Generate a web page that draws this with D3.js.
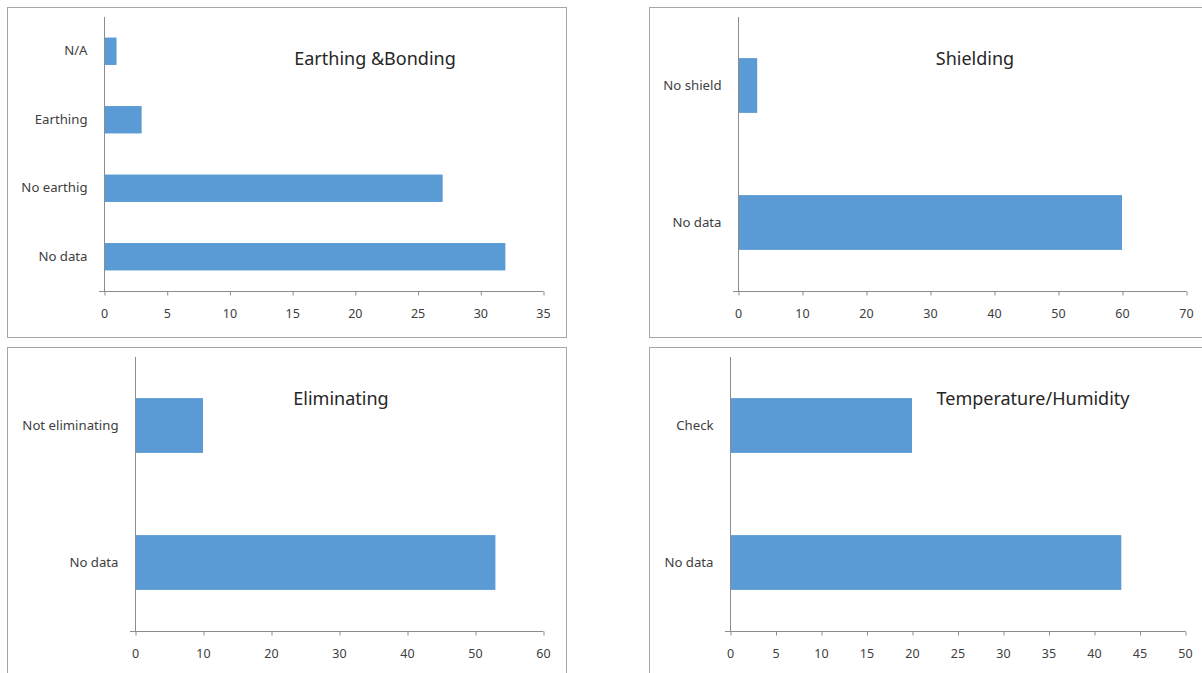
<!DOCTYPE html>
<html>
<head>
<meta charset="utf-8">
<script src="https://cdn.jsdelivr.net/npm/d3@7"></script>
<style>
  html, body { margin: 0; padding: 0; background: #fff; }
  svg { display: block; }
  text { font-family: "Noto Sans", "Open Sans", sans-serif; }
</style>
</head>
<body>
<svg id="chart" width="1202" height="673"></svg>
<script>
// Survey results, one horizontal bar chart per topic (top category drawn first)
const earthingCategories = ["N/A", "Earthing", "No earthig", "No data"];
const earthingValues     = [1, 3, 27, 32];
const earthingTicks      = [0, 5, 10, 15, 20, 25, 30, 35];

const shieldingCategories = ["No shield", "No data"];
const shieldingValues     = [3, 60];
const shieldingTicks      = [0, 10, 20, 30, 40, 50, 60, 70];

const eliminatingCategories = ["Not eliminating", "No data"];
const eliminatingValues     = [10, 53];
const eliminatingTicks      = [0, 10, 20, 30, 40, 50, 60];

const climateCategories = ["Check", "No data"];
const climateValues     = [20, 43];
const climateTicks      = [0, 5, 10, 15, 20, 25, 30, 35, 40, 45, 50];

const titles = ["Earthing &Bonding", "Shielding", "Eliminating", "Temperature/Humidity"];

// Panel frames and plot areas (page pixels)
const panels = [
  { title: titles[0], cats: earthingCategories,    vals: earthingValues,    ticks: earthingTicks,
    frame: [7.5, 7.5, 559, 330], plot: [104, 17, 543, 291], titleX: 375, titleY: 60 },
  { title: titles[1], cats: shieldingCategories,   vals: shieldingValues,   ticks: shieldingTicks,
    frame: [649.5, 7.5, 560, 330], plot: [738, 17, 1186, 291], titleX: 975, titleY: 60 },
  { title: titles[2], cats: eliminatingCategories, vals: eliminatingValues, ticks: eliminatingTicks,
    frame: [7.5, 347.5, 559, 340], plot: [135, 357, 543, 631], titleX: 341, titleY: 400 },
  { title: titles[3], cats: climateCategories,     vals: climateValues,     ticks: climateTicks,
    frame: [649.5, 347.5, 560, 340], plot: [730, 357, 1185, 631], titleX: 1033, titleY: 400 }
];

const svg = d3.select("#chart");
const barColor = "#5b9bd5";
const axisColor = "#8c8c8c";
const textColor = "#404040";

panels.forEach(p => {
  const g = svg.append("g");

  // outer frame
  g.append("rect")
    .attr("x", p.frame[0]).attr("y", p.frame[1])
    .attr("width", p.frame[2]).attr("height", p.frame[3])
    .attr("fill", "#fff").attr("stroke", "#a6a6a6").attr("stroke-width", 1);

  const [x0, y0, x1, y1] = p.plot;
  const maxTick = p.ticks[p.ticks.length - 1];

  const x = d3.scaleLinear().domain([0, maxTick]).range([x0, x1]);
  const y = d3.scaleBand().domain(p.cats).range([y0, y1])
    .paddingInner(0.6).paddingOuter(0.3);

  // bars
  g.selectAll("rect.bar")
    .data(p.cats.map((c, i) => ({ c, v: p.vals[i] })))
    .join("rect")
    .attr("class", "bar")
    .attr("x", x(0))
    .attr("y", d => y(d.c))
    .attr("width", d => x(d.v) - x(0))
    .attr("height", y.bandwidth())
    .attr("fill", barColor);

  // value axis along the bottom
  const xAxis = d3.axisBottom(x).tickValues(p.ticks).tickSize(4).tickSizeOuter(0).tickPadding(14);
  const xg = g.append("g").attr("transform", `translate(0,${y1 + 0.5})`).call(xAxis);
  xg.select(".domain").attr("stroke", axisColor).attr("d", `M${x0 - 5},0H${x1 + 0.5}`);
  xg.selectAll(".tick line").attr("stroke", axisColor).attr("transform", "translate(0.5,0)");
  xg.selectAll(".tick text").attr("fill", textColor).attr("font-size", 12.5);

  // category axis along the left
  const yAxis = d3.axisLeft(y).tickSize(0).tickPadding(17);
  const yg = g.append("g").attr("transform", `translate(${x0 + 0.5},0)`).call(yAxis);
  yg.select(".domain").attr("stroke", axisColor).attr("d", `M0,${y0}V${y1}`);
  yg.selectAll(".tick text").attr("fill", textColor).attr("font-size", 13.2);

  // chart title
  g.append("text")
    .attr("x", p.titleX).attr("y", p.titleY)
    .attr("text-anchor", "middle").attr("dominant-baseline", "middle")
    .attr("font-size", 18).attr("fill", "#262626")
    .text(p.title);
});
</script>
</body>
</html>
